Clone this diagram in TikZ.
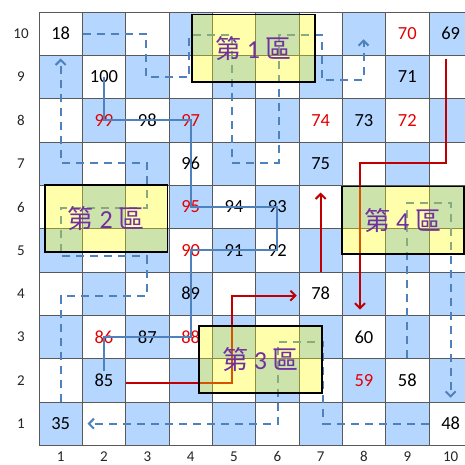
\documentclass[tikz,border=0pt]{standalone}
\usepackage{fontspec}
\setmainfont{Carlito}
\newfontfamily\cjk{Noto Sans CJK TC}
\usetikzlibrary{arrows.meta}
\definecolor{cellblue}{RGB}{180,214,255}
\definecolor{pathblue}{RGB}{79,129,189}
\definecolor{pathred}{RGB}{192,0,0}
\definecolor{zonetext}{RGB}{112,48,160}
\definecolor{zonefill}{RGB}{255,255,0}

\begin{document}
\begin{tikzpicture}[
        x=1pt, y=-1pt,
        font=\fontsize{18.5}{18.5}\selectfont,
        cell/.style={minimum size=43.33pt, inner sep=0pt},
        axis/.style={font=\fontsize{15}{15}\selectfont, text=black!85, inner sep=0.5pt},
        grid/.style={draw=black!65, line width=0.9pt},
        zone/.style={draw=black, line width=1.8pt, fill=zonefill, fill opacity=0.33, text opacity=1, text=zonetext, minimum width=122.4pt, minimum height=67.5pt, inner sep=0pt, font=\fontsize{26}{26}\selectfont},
        walk/.style={pathblue, line width=2pt},
        jump/.style={pathblue, line width=2pt, dash pattern=on 8pt off 6pt},
        climb/.style={pathred, line width=2pt},
        tip/.style={-{Straight Barb[length=5pt,width=10pt]}}
    ]
        \useasboundingbox (0,0) rectangle (465,464);
        \clip (0,0) rectangle (465,464);
        \fill[white] (0,0) rectangle (465,464);

        \foreach \c in {1,...,10}
            \foreach \r in {1,...,10}{
                \pgfmathtruncatemacro{\s}{\c+\r}
                \ifodd\s\relax\else
                    \fill[cellblue] ({39+43.33*(\c-1)},{12+43.33*(10-\r)}) rectangle ++(43.33,43.33);
                \fi
            }
        \foreach \i in {0,...,10}{
            \draw[grid] ({39+43.33*\i},12) -- ++(0,433.3);
            \draw[grid] (39,{12+43.33*\i}) -- ++(433.3,0);
        }
        \foreach \i in {1,...,10}{
            \node[axis] (row\i) at (21,{12+43.33*(10.5-\i)}) {\i};
            \node[axis] (col\i) at ({39+43.33*(\i-0.5)},456.5) {\i};
        }

        \foreach \v/\c/\r/\tc in {18/1/10/black, 70/9/10/red, 69/10/10/black, 100/2/9/black, 71/9/9/black,
                99/2/8/red, 98/3/8/black, 97/4/8/red, 74/7/8/red, 73/8/8/black, 72/9/8/red,
                96/4/7/black, 75/7/7/black, 95/4/6/red, 94/5/6/black, 93/6/6/black,
                90/4/5/red, 91/5/5/black, 92/6/5/black, 89/4/4/black, 78/7/4/black,
                86/2/3/red, 87/3/3/black, 88/4/3/red, 60/8/3/black,
                85/2/2/black, 59/8/2/red, 58/9/2/black, 35/1/1/black, 48/10/1/black}
            \node[cell, text=\tc!90!black] (n\v) at ({39+43.33*(\c-0.5)},{12+43.33*(10.5-\r)}) {\v};

        \draw[walk] (n100.center) -- (n99.center) -- (n97.center) -- (n95.center) -- (n93.center)
            -- (n92.center) -- (n90.center) -- (n88.center) -- (n86.center) -- ([yshift=9pt]n85.center);

        \draw[climb, tip, shorten >=2pt] ([yshift=-2.5pt]n85.east) -- ++(106.5,0) |- ([yshift=-2pt]n78.west);
        \draw[climb, tip] (n78.north) -- ([yshift=-7pt]n75.south);
        \draw[climb, tip] ([shift={(-4.5,3)}]n69.south) -- ++(0,104) -| ([shift={(-4,-5.5)}]n60.north);

        \draw[jump, tip] (n58.north) -- ++(0,-155.6) -| ([yshift=4pt]n48.north);
        \draw[jump, tip] (n48.west) -- ++(-105.7,0) -- ++(0,-82) -- ++(-45.3,0) -- ++(0,82) -- ([xshift=5pt]n35.east);
        \draw[jump, tip] (n35.north) -- ++(0,-105.6) -- ++(86,0) -- ++(0,-40) -- ++(-86,0) -- ++(0,-47.7)
            -- ++(86.3,0) -- ++(0,-45.7) -- ++(-86.3,0) -- ([yshift=-3pt]n18.south);
        \draw[jump, tip] (n18.east) -- ++(63.4,0) -- ++(0,43.6) -- ++(43.3,0) -- ++(0,-42.3) -- ++(43,0)
            -- ++(0,128.3) -- ++(46.3,0) -- ++(0,-127.8) -- ++(43.4,0) -- ++(0,44.5) -- ++(41.6,0) -- ++(0,-40.7);

        \node[zone] (z1) at (253.5,48.2)  {{\cjk 第} 1 {\cjk 區}};
        \node[zone] (z2) at (106.3,218.4) {{\cjk 第} 2 {\cjk 區}};
        \node[zone] (z3) at (260.5,359.5) {{\cjk 第} 3 {\cjk 區}};
        \node[zone] (z4) at (402.8,220.3) {{\cjk 第} 4 {\cjk 區}};
    \end{tikzpicture}
\end{document}
